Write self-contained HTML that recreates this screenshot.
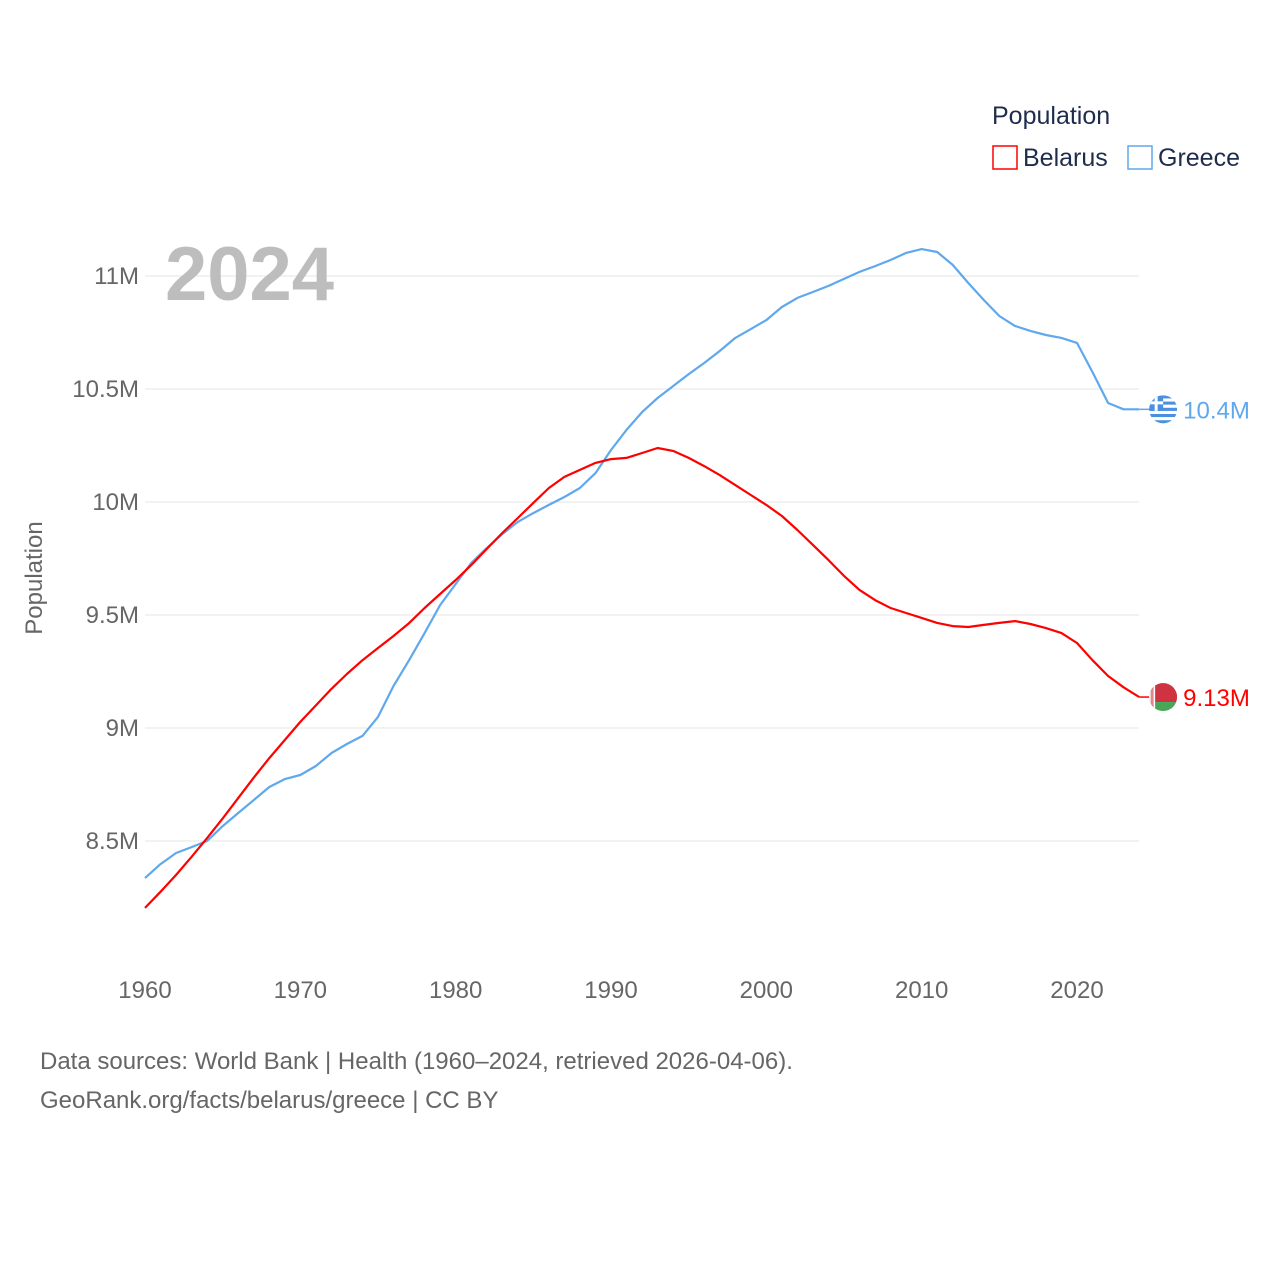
<!DOCTYPE html>
<html><head><meta charset="utf-8">
<style>
body{margin:0;background:#fff;font-family:"Liberation Sans",sans-serif;}
svg text{font-family:"Liberation Sans",sans-serif;}
</style></head>
<body>
<svg id="chart" width="1280" height="1280" xmlns="http://www.w3.org/2000/svg">
<g id="grid"></g>
<g id="yticks"></g>
<g id="xticks"></g>
<text x="42" y="578" transform="rotate(-90 42 578)" text-anchor="middle" font-size="24" fill="#666">Population</text>
<text x="165" y="300" font-size="76" font-weight="bold" fill="#bdbdbd">2024</text>
<g id="series"></g>
<text x="992" y="124" font-size="25" fill="#1f2d4d">Population</text>
<g>
<rect x="993" y="146" width="24" height="23" fill="none" stroke="#ff0000" stroke-width="1.5"/>
<text x="1023" y="166" font-size="25" fill="#1f2d4d">Belarus</text></g>
<g>
<rect x="1128" y="146" width="24" height="23" fill="none" stroke="#5fa8ee" stroke-width="1.5"/>
<text x="1158" y="166" font-size="25" fill="#1f2d4d">Greece</text></g>
<text x="40" y="1069" font-size="24" fill="#666">Data sources: World Bank | Health (1960–2024, retrieved 2026-04-06).</text>
<text x="40" y="1108" font-size="24" fill="#666">GeoRank.org/facts/belarus/greece | CC BY</text>
</svg>
<script>
const years = Array.from({length:65},(_,i)=>1960+i);
const belarus = [8.204,8.275,8.35,8.43,8.513,8.60,8.69,8.78,8.867,8.947,9.027,9.10,9.173,9.239,9.30,9.354,9.407,9.464,9.531,9.593,9.655,9.721,9.792,9.863,9.929,9.996,10.062,10.111,10.142,10.173,10.19,10.195,10.217,10.239,10.226,10.195,10.159,10.119,10.075,10.031,9.987,9.938,9.876,9.81,9.743,9.673,9.611,9.566,9.531,9.509,9.487,9.465,9.451,9.447,9.456,9.465,9.473,9.46,9.442,9.42,9.376,9.30,9.23,9.18,9.137];
const greece = [8.336,8.398,8.447,8.473,8.50,8.566,8.624,8.681,8.739,8.774,8.792,8.832,8.889,8.929,8.965,9.049,9.186,9.30,9.42,9.544,9.637,9.73,9.796,9.858,9.912,9.951,9.987,10.022,10.062,10.128,10.23,10.319,10.398,10.46,10.513,10.566,10.615,10.668,10.726,10.765,10.805,10.863,10.903,10.929,10.956,10.987,11.018,11.044,11.071,11.102,11.119,11.106,11.049,10.969,10.894,10.823,10.779,10.757,10.739,10.726,10.704,10.575,10.438,10.41,10.41];
const yTicks = [8.5,9,9.5,10,10.5,11];
const yTickLabels = ["8.5M","9M","9.5M","10M","10.5M","11M"];
const xTicks = [1960,1970,1980,1990,2000,2010,2020];

const X = y => 145 + (y-1960)*(1077-145)/60;
const Y = v => 276 + (11-v)*226;
const NS="http://www.w3.org/2000/svg";
function mk(tag,attrs,parent,txt){const e=document.createElementNS(NS,tag);for(const k in attrs)e.setAttribute(k,attrs[k]);if(txt!==undefined)e.textContent=txt;parent.appendChild(e);return e;}
const grid=document.getElementById('grid'),yt=document.getElementById('yticks'),xt=document.getElementById('xticks'),ser=document.getElementById('series');
yTicks.forEach((v,i)=>{
  const l=mk('line',{x1:145,x2:1139,y1:Y(v),y2:Y(v),stroke:'#e6e6e6','stroke-width':1},grid);
  
  
  const t=mk('text',{x:139,y:Y(v)+8,'text-anchor':'end','font-size':24,fill:'#666'},yt,yTickLabels[i]);
  
  
});
xTicks.forEach(v=>{
  const t=mk('text',{x:X(v),y:998,'text-anchor':'middle','font-size':24,fill:'#666'},xt,String(v));
  
  
});
function line(data,color,name){
  const d=data.map((v,i)=>(i?'L':'M')+X(years[i]).toFixed(1)+','+Y(v).toFixed(1)).join('');
  const p=mk('path',{d:d,fill:'none',stroke:color,'stroke-width':2.2,'stroke-linejoin':'round'},ser);
  
  
}
line(greece,'#5fa8ee','greece-line');
line(belarus,'#ff0000','belarus-line');
const ly=years[years.length-1];
function endMarker(v,color,label,name,flag){
  const cx=X(ly)+24, cy=Y(v);
  mk('line',{x1:X(ly),x2:cx-14,y1:cy,y2:cy,stroke:color,'stroke-width':1.5},ser);
  const g=mk('g',{},ser);
  
  
  const cid='c'+name;
  const cp=mk('clipPath',{id:cid},g);mk('circle',{cx:cx,cy:cy,r:14},cp);
  const inner=mk('g',{'clip-path':'url(#'+cid+')'},g);
  flag(inner,cx,cy);
  const t=mk('text',{x:cx+20,y:cy+9,'font-size':24,fill:color},ser,label);
  
  
}
endMarker(greece[greece.length-1],'#5fa8ee','10.4M','greece',(g,cx,cy)=>{
  for(let i=0;i<9;i++)mk('rect',{x:cx-14,y:cy-14+i*28/9,width:28,height:28/9+0.2,fill:i%2?'#fff':'#4b8fe0'},g);
  mk('rect',{x:cx-14,y:cy-14,width:14,height:15.5,fill:'#4b8fe0'},g);
  mk('rect',{x:cx-14,y:cy-8,width:14,height:3,fill:'#fff'},g);
  mk('rect',{x:cx-8.5,y:cy-14,width:3,height:15.5,fill:'#fff'},g);
});
endMarker(belarus[belarus.length-1],'#ff0000','9.13M','belarus',(g,cx,cy)=>{
  mk('rect',{x:cx-14,y:cy-14,width:28,height:19,fill:'#cf3342'},g);
  mk('rect',{x:cx-14,y:cy+5,width:28,height:9,fill:'#4aa657'},g);
  mk('rect',{x:cx-14,y:cy-14,width:6,height:28,fill:'#fff'},g);
  mk('rect',{x:cx-12.5,y:cy-14,width:3,height:28,fill:'#cf3342',opacity:0.6},g);
});
</script>
</body></html>
